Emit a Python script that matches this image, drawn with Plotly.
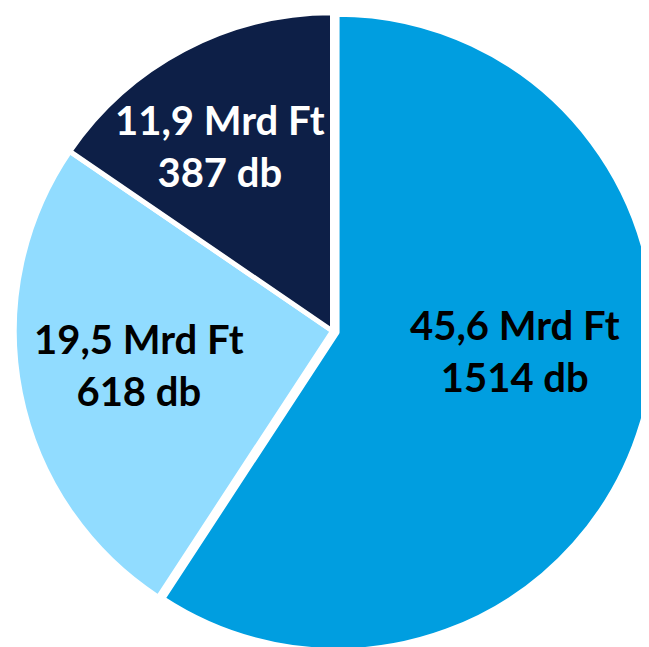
import plotly.graph_objects as go

values_mrd = [45.6, 19.5, 11.9]
counts_db = [1514, 618, 387]
colors = ["#009EE0", "#91DCFF", "#0D1F47"]
text_colors = ["#000000", "#000000", "#FFFFFF"]
pulls = [0.015, 0, 0]
# label anchor positions (paper coordinates) for each slice's text
label_x = [0.7812, 0.2011, 0.3267]
label_y = [0.4698, 0.4474, 0.7864]

labels = [f"{str(v).replace('.', ',')} Mrd Ft<br>{c} db" for v, c in zip(values_mrd, counts_db)]

fig = go.Figure(go.Pie(
    values=values_mrd,
    textinfo="none",
    sort=False,
    direction="clockwise",
    rotation=0,
    pull=pulls,
    marker=dict(colors=colors, line=dict(color="white", width=5)),
    showlegend=False,
    hoverinfo="none",
))
for lab, x, y, c in zip(labels, label_x, label_y, text_colors):
    fig.add_annotation(
        text=lab, x=x, y=y, xref="paper", yref="paper",
        xanchor="center", yanchor="middle", showarrow=False,
        font=dict(family="Lato", size=40, color=c, weight="bold"),
    )
fig.update_layout(
    width=649, height=647,
    margin=dict(l=0, r=0, t=0, b=1),
    paper_bgcolor="white",
)
fig.write_html("out.html")
